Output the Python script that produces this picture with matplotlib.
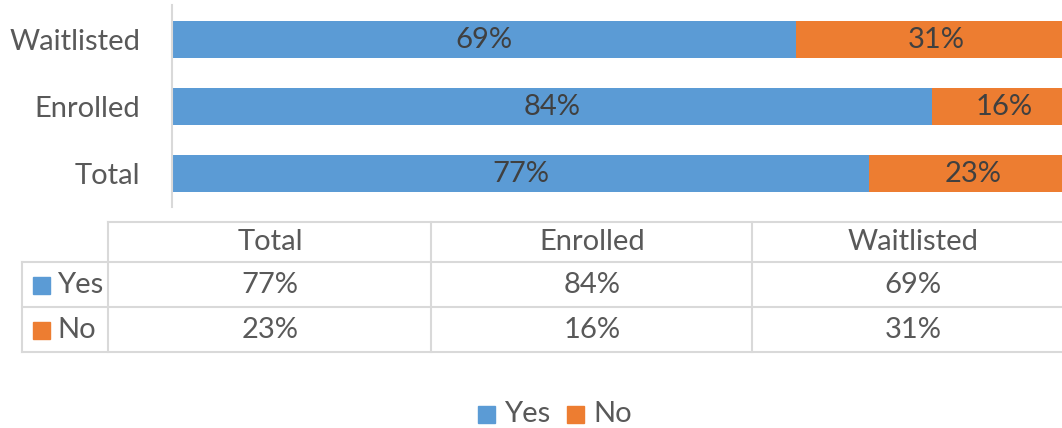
import matplotlib.pyplot as plt
from matplotlib.patches import Rectangle

# data
groups = ["Total", "Enrolled", "Waitlisted"]
yes = [0.77, 0.84, 0.69]
no = [0.23, 0.16, 0.31]
series = ["Yes", "No"]
colors = ["#5B9BD5", "#ED7D31"]

plt.rcParams['font.family'] = ['Lato', 'DejaVu Sans']
txt = "#595959"
grid = "#D9D9D9"
fs = 21

fig = plt.figure(figsize=(10.62, 4.28), dpi=100)
W, H = 1062, 428

# bar area (pixel box -> figure fraction)
x0, x1, ytop, ybot = 172, 1062, 5, 207
ax = fig.add_axes([x0 / W, 1 - ybot / H, (x1 - x0) / W, (ybot - ytop) / H])
pos = range(len(groups))
ax.barh(pos, yes, height=0.55, color=colors[0])
ax.barh(pos, no, left=yes, height=0.55, color=colors[1])
for i in pos:
    ax.text(yes[i] / 2, i, f"{yes[i]:.0%}", ha="center", va="center", color="#404040", fontsize=fs)
    ax.text(yes[i] + no[i] / 2, i, f"{no[i]:.0%}", ha="center", va="center", color="#404040", fontsize=fs)
ax.set_xlim(0, 890 / 905)
ax.set_ylim(-0.5, 2.52)
ax.set_yticks(list(pos))
ax.set_yticklabels(groups, fontsize=fs, color=txt)
ax.tick_params(axis="y", length=0, pad=23)
ax.set_xticks([])
for s in ["top", "right", "bottom"]:
    ax.spines[s].set_visible(False)
ax.spines["left"].set_color(grid)
ax.spines["left"].set_linewidth(1.5)

# data table + legend drawn in pixel space
ov = fig.add_axes([0, 0, 1, 1])
ov.set_xlim(0, W)
ov.set_ylim(H, 0)
ov.axis("off")
lw = 1.5
ov.plot([108, W], [222, 222], color=grid, lw=lw)
for y in [262, 307, 352]:
    ov.plot([22, W], [y, y], color=grid, lw=lw)
ov.plot([22, 22], [262, 352], color=grid, lw=lw)
for x in [108, 431, 752]:
    ov.plot([x, x], [222, 352], color=grid, lw=lw)

col_c = [270, 592, 913]
row_c = [285, 330]
for j, g in enumerate(groups):
    ov.text(col_c[j], 242, g, ha="center", va="center", fontsize=fs, color=txt)
    ov.text(col_c[j], row_c[0], f"{yes[j]:.0%}", ha="center", va="center", fontsize=fs, color=txt)
    ov.text(col_c[j], row_c[1], f"{no[j]:.0%}", ha="center", va="center", fontsize=fs, color=txt)
for k, name in enumerate(series):
    ov.add_patch(Rectangle((33, row_c[k] - 8), 17, 17, color=colors[k]))
    ov.text(57, row_c[k], name, ha="left", va="center", fontsize=fs, color=txt)

# bottom legend
leg_x = [478, 567]
for k, name in enumerate(series):
    ov.add_patch(Rectangle((leg_x[k], 406), 17, 17, color=colors[k]))
    ov.text(leg_x[k] + 26, 414, name, ha="left", va="center", fontsize=fs, color=txt)

fig.savefig("out.png", dpi=100)
